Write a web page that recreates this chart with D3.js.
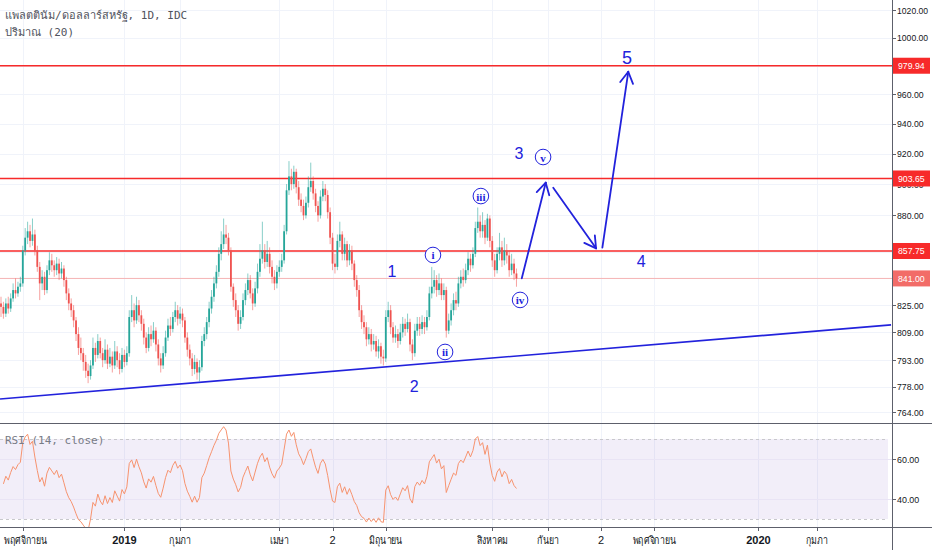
<!DOCTYPE html>
<html>
<head>
<meta charset="utf-8">
<script src="https://cdn.jsdelivr.net/npm/d3@7"></script>
<style>
  body { margin: 0; background: #fff; }
  svg { display: block; }
</style>
</head>
<body>
<div id="chart"></div>
<script>
// daily closes / highs / lows (open = previous close)
const firstOpen = 826;
const closes = [
  824,820,826,823,829,834,832,836,838,858, 866,870,864,868,858,848,838,842,834,846,
  852,849,846,850,844,847,840,832,826,822, 816,808,800,797,792,787,784,790,800,796,
  804,797,793,799,791,795,790,798,793,788, 796,792,797,818,822,816,825,819,814,806,
  800,808,805,810,802,794,790,797,806,813, 811,818,822,817,820,816,806,799,794,788,
  792,786,789,804,808,815,823,830,838,845, 856,862,868,866,858,836,828,822,814,818,
  828,834,840,832,826,835,845,853,858,851, 856,848,842,838,845,848,852,870,896,905,
  900,908,898,890,886,880,888,898,902,894, 886,880,892,897,893,882,866,850,848,864,
  868,856,862,852,858,850,840,834,822,815, 812,805,808,802,804,798,801,795,794,818,
  822,812,806,808,804,809,814,811,815,802, 797,810,814,811,815,812,818,832,836,840,
  834,838,831,834,810,816,822,828,826,838, 842,840,846,853,849,856,872,876,870,874,
  866,878,864,852,846,856,860,852,858,855, 846,850,844,841
];
const highs = [
  830,827,829,830,832,838,841,839,842,861, 872,876,874,878,871,861,851,846,845,849,
  857,856,852,854,853,851,849,842,835,829, 825,818,812,806,800,796,791,793,806,803,
  808,806,800,805,802,800,798,804,801,797, 800,799,801,822,831,826,830,828,822,817,
  809,812,813,815,812,805,797,801,810,817, 818,821,827,825,824,823,818,809,802,797,
  796,794,793,807,812,818,827,834,842,849, 860,870,878,874,869,860,838,832,825,822,
  832,838,844,843,835,839,850,862,876,862, 864,860,852,846,849,852,856,874,900,915,
  910,912,910,902,894,890,892,905,914,905, 897,889,896,902,900,896,885,869,856,868,
  876,870,866,864,862,861,852,843,837,825, 819,815,812,811,808,807,805,803,799,822,
  827,825,815,813,811,814,818,817,820,817, 805,814,818,818,819,818,822,836,848,846,
  843,844,841,838,836,820,826,832,833,842, 846,847,850,857,856,860,876,885,880,882,
  877,881,880,867,856,860,869,864,866,862, 858,856,853,847
];
const lows = [
  818,817,818,820,821,827,829,830,833,836, 855,862,860,861,855,845,828,834,831,832,
  843,845,842,843,840,841,836,828,822,818, 812,804,796,793,787,783,780,782,788,792,
  794,794,789,791,788,789,786,788,789,785, 786,789,790,795,815,812,814,815,810,802,
  797,798,801,803,798,790,786,788,795,804, 807,809,815,813,814,812,803,795,790,784,
  785,782,781,787,801,805,812,820,827,835, 842,852,859,862,855,833,824,818,810,811,
  816,825,831,829,822,824,832,842,850,847, 848,844,838,834,835,842,845,850,868,893,
  896,897,894,886,882,877,878,885,895,890, 882,876,878,889,889,878,862,846,844,846,
  860,852,852,848,849,846,836,830,818,811, 808,801,802,798,799,795,794,791,790,792,
  815,808,803,803,800,802,806,807,809,798, 793,795,807,807,808,808,810,816,829,832,
  830,831,828,828,806,808,813,819,822,824, 835,836,838,843,845,847,854,869,866,866,
  862,864,860,848,842,844,852,848,849,850, 842,843,840,836
];

// horizontal levels and last price
const levels = [979.94, 903.65, 857.75];
const lastPrice = 841.00;

// price axis ticks (log scale) and RSI ticks
const priceTicks = [764, 778, 793, 809, 825, 841, 857, 880, 900, 920, 940, 960, 980, 1000, 1020];
const rsiTicks = [40, 60];

// time axis: bar index of each labelled day
const timeTickBars = [9, 51, 74, 115, 137, 159, 203, 226, 248, 270, 313, 337];
const timeTickLabels = ["พฤศจิกายน", "2019", "กุมภา", "เมษา", "2", "มิถุนายน",
                        "สิงหาคม", "กันยา", "2", "พฤศจิกายน", "2020", "กุมภา"];

// trend line (bar, price) end points
const trendBars = [-0.4, 367.8];
const trendPrices = [771.2, 813.4];

// projected path, three arrows
const arrowFromBars = [215.2, 228.2, 248.5];
const arrowFromPrices = [841.1, 897.7, 859.8];
const arrowToBars = [225.1, 245.9, 259.2];
const arrowToPrices = [900.9, 859.4, 975.7];

// wave labels
const waveLabels = ["1", "2", "3", "4", "5"];
const waveBars = [161.6, 170.7, 214.0, 264.5, 258.7];
const wavePrices = [845.0, 778.4, 920.0, 851.0, 985.4];
const subLabels = ["i", "ii", "iii", "iv", "v"];
const subBars = [178.5, 183.5, 198.3, 214.5, 224.0];
const subPrices = [855.3, 797.7, 892.3, 828.1, 917.7];

const width = 932, height = 550;
const axisX = 892, mainBottom = 423, rsiBottom = 527;
const up = "#26a69a", down = "#ef5350", blue = "#2222dc", lineRed = "#f72a2a";
const axisFont = "'Liberation Sans', Arial, sans-serif";

const x = d3.scaleLinear().domain([0, 213]).range([1, 1 + 213 * 2.42]);
const y = d3.scaleLog().domain([764, 1020]).range([412, 10]);
const yR = d3.scaleLinear().domain([30, 70]).range([519, 439]);

const bars = closes.map((c, i) => ({
  i, c, h: highs[i], l: lows[i], o: i ? closes[i - 1] : firstOpen
}));

// RSI 14 (Wilder), seeded with an even split of the early average move
const rsi = [];
{
  const moves = closes.slice(1, 15).map((c, k) => Math.abs(c - closes[k]));
  let g = d3.mean(moves) / 2, l = g;
  for (let i = 1; i < closes.length; i++) {
    const d = closes[i] - closes[i - 1];
    g = (g * 13 + Math.max(d, 0)) / 14;
    l = (l * 13 + Math.max(-d, 0)) / 14;
    rsi.push({ i, v: 100 - 100 / (1 + g / l) });
  }
}

const svg = d3.select("#chart").append("svg")
  .attr("width", width).attr("height", height)
  .style("font-family", axisFont);

const defs = svg.append("defs");
defs.append("clipPath").attr("id", "mainClip")
  .append("rect").attr("x", 0).attr("y", 0).attr("width", axisX).attr("height", mainBottom);
defs.append("clipPath").attr("id", "rsiClip")
  .append("rect").attr("x", 0).attr("y", mainBottom + 1).attr("width", axisX).attr("height", rsiBottom - mainBottom - 1);

// grid
const grid = svg.append("g").attr("stroke", "#f0f3fa").attr("stroke-width", 1);
grid.selectAll(".vg").data(timeTickBars).enter().append("line")
  .attr("x1", d => Math.round(x(d)) + 0.5).attr("x2", d => Math.round(x(d)) + 0.5)
  .attr("y1", 0).attr("y2", rsiBottom);
grid.selectAll(".hg").data(priceTicks).enter().append("line")
  .attr("x1", 0).attr("x2", axisX)
  .attr("y1", d => Math.round(y(d)) + 0.5).attr("y2", d => Math.round(y(d)) + 0.5);

// RSI band
const rsiG = svg.append("g");
rsiG.append("rect")
  .attr("x", 0).attr("width", axisX - 4)
  .attr("y", yR(70)).attr("height", yR(30) - yR(70))
  .attr("fill", "#7e57c2").attr("fill-opacity", 0.1);
rsiG.selectAll(".band").data([70, 30]).enter().append("line")
  .attr("x1", 0).attr("x2", axisX - 4)
  .attr("y1", d => yR(d) + 0.5).attr("y2", d => yR(d) + 0.5)
  .attr("stroke", "#c8c8cc").attr("stroke-dasharray", "3,3");
rsiG.selectAll(".rg").data(rsiTicks).enter().append("line")
  .attr("x1", 0).attr("x2", axisX)
  .attr("y1", d => yR(d) + 0.5).attr("y2", d => yR(d) + 0.5)
  .attr("stroke", "#e9e4f5");
rsiG.append("path")
  .datum(rsi)
  .attr("clip-path", "url(#rsiClip)")
  .attr("fill", "none").attr("stroke", "#f7936f").attr("stroke-width", 1)
  .attr("d", d3.line().x(d => x(d.i)).y(d => yR(d.v)));

// main pane
const main = svg.append("g").attr("clip-path", "url(#mainClip)");

main.append("line")
  .attr("x1", 0).attr("x2", axisX)
  .attr("y1", y(lastPrice)).attr("y2", y(lastPrice))
  .attr("stroke", "#f6b4b4").attr("stroke-width", 1);

main.selectAll(".level").data(levels).enter().append("line")
  .attr("x1", 0).attr("x2", axisX)
  .attr("y1", d => y(d)).attr("y2", d => y(d))
  .attr("stroke", lineRed).attr("stroke-width", 1.6);

main.selectAll(".wick").data(bars).enter().append("line")
  .attr("x1", d => x(d.i)).attr("x2", d => x(d.i))
  .attr("y1", d => y(d.h)).attr("y2", d => y(d.l))
  .attr("stroke", d => d.c >= d.o ? up : down)
  .attr("stroke-opacity", 0.55).attr("stroke-width", 1);

main.selectAll(".body").data(bars).enter().append("rect")
  .attr("x", d => x(d.i) - 0.9).attr("width", 1.8)
  .attr("y", d => y(Math.max(d.o, d.c)))
  .attr("height", d => Math.max(1, Math.abs(y(d.o) - y(d.c))))
  .attr("fill", d => d.c >= d.o ? up : down);

main.append("line")
  .attr("x1", x(trendBars[0])).attr("y1", y(trendPrices[0]))
  .attr("x2", x(trendBars[1])).attr("y2", y(trendPrices[1]))
  .attr("stroke", blue).attr("stroke-width", 1.6);

// projected arrows
arrowFromBars.forEach((b, k) => {
  const x1 = x(b), y1 = y(arrowFromPrices[k]);
  const x2 = x(arrowToBars[k]), y2 = y(arrowToPrices[k]);
  const a = Math.atan2(y1 - y2, x1 - x2), len = 13;
  const g = main.append("g").attr("stroke", blue).attr("stroke-width", 1.8)
    .attr("fill", "none").attr("stroke-linecap", "round");
  g.append("line").attr("x1", x1).attr("y1", y1).attr("x2", x2).attr("y2", y2);
  [-0.52, 0.52].forEach(s => {
    g.append("line").attr("x1", x2).attr("y1", y2)
      .attr("x2", x2 + len * Math.cos(a + s)).attr("y2", y2 + len * Math.sin(a + s));
  });
});

// wave labels
main.selectAll(".wave").data(waveLabels).enter().append("text")
  .attr("x", (d, k) => x(waveBars[k])).attr("y", (d, k) => y(wavePrices[k]))
  .attr("text-anchor", "middle").attr("dominant-baseline", "central")
  .attr("font-family", axisFont)
  .attr("font-size", (d, k) => k === 4 ? 18 : 16)
  .attr("fill", blue)
  .text(d => d);

const sub = main.selectAll(".sub").data(subLabels).enter().append("g")
  .attr("transform", (d, k) => `translate(${x(subBars[k])},${y(subPrices[k])})`);
sub.append("circle").attr("r", 7.8)
  .attr("fill", "#fff").attr("stroke", blue).attr("stroke-width", 1);
sub.append("text")
  .attr("text-anchor", "middle").attr("dominant-baseline", "central").attr("y", 0.5)
  .attr("font-family", "'Liberation Serif', 'DejaVu Serif', serif")
  .attr("font-size", 11).attr("font-weight", "bold")
  .attr("fill", blue)
  .text(d => d);

// pane borders and right axis
const frame = svg.append("g").attr("stroke", "#5d606b").attr("stroke-width", 1);
frame.append("line").attr("x1", axisX + 0.5).attr("x2", axisX + 0.5).attr("y1", 0).attr("y2", height);
frame.append("line").attr("x1", 0).attr("x2", width).attr("y1", mainBottom + 0.5).attr("y2", mainBottom + 0.5);
frame.append("line").attr("x1", 0).attr("x2", width).attr("y1", rsiBottom + 0.5).attr("y2", rsiBottom + 0.5);

const fmt = d3.format(".2f");
// axis numbers are drawn narrow, like the reference's condensed face
const narrow = sel => sel.attr("textLength", d => fmt(d.v !== undefined ? d.v : d).length * 4.45)
  .attr("lengthAdjust", "spacingAndGlyphs");

const pAxis = svg.append("g");
pAxis.selectAll(".pt").data(priceTicks).enter().append("line")
  .attr("x1", axisX).attr("x2", axisX + 4)
  .attr("y1", d => Math.round(y(d)) + 0.5).attr("y2", d => Math.round(y(d)) + 0.5)
  .attr("stroke", "#5d606b");
pAxis.selectAll(".pl").data(priceTicks).enter().append("text")
  .attr("x", axisX + 5).attr("y", d => y(d))
  .attr("dominant-baseline", "central")
  .attr("font-size", 9.5).attr("fill", "#131722")
  .text(d => fmt(d))
  .call(narrow);

const rAxis = svg.append("g");
rAxis.selectAll(".rt").data(rsiTicks).enter().append("line")
  .attr("x1", axisX).attr("x2", axisX + 4)
  .attr("y1", d => yR(d) + 0.5).attr("y2", d => yR(d) + 0.5)
  .attr("stroke", "#5d606b");
rAxis.selectAll(".rl").data(rsiTicks).enter().append("text")
  .attr("x", axisX + 5).attr("y", d => yR(d))
  .attr("dominant-baseline", "central")
  .attr("font-size", 9.5).attr("fill", "#131722")
  .text(d => fmt(d))
  .call(narrow);

// price boxes on the axis
const boxes = levels.map(v => ({ v, fill: lineRed })).concat([{ v: lastPrice, fill: "#f26c68" }]);
const box = svg.selectAll(".box").data(boxes).enter().append("g")
  .attr("transform", d => `translate(${axisX + 1},${y(d.v)})`);
box.append("rect").attr("x", 0).attr("y", -8).attr("width", 37).attr("height", 16)
  .attr("fill", d => d.fill);
box.append("text").attr("x", 5).attr("y", 0).attr("dominant-baseline", "central")
  .attr("font-size", 9.5).attr("fill", "#fff")
  .text(d => fmt(d.v))
  .call(narrow);

// time axis
const tAxis = svg.append("g");
tAxis.selectAll(".tt").data(timeTickBars).enter().append("line")
  .attr("x1", d => Math.round(x(d)) + 0.5).attr("x2", d => Math.round(x(d)) + 0.5)
  .attr("y1", rsiBottom).attr("y2", rsiBottom + 4)
  .attr("stroke", "#5d606b");
const tl = tAxis.selectAll(".tl").data(timeTickLabels).enter().append("text")
  .attr("x", (d, k) => x(timeTickBars[k])).attr("y", 540)
  .attr("text-anchor", "middle").attr("dominant-baseline", "central")
  .attr("font-size", 11).attr("fill", "#131722")
  .attr("font-weight", d => /^20\d\d$/.test(d) ? "bold" : "normal")
  .text(d => d);
tl.each(function(d, k) {
  if (/^\d+$/.test(d)) return;
  const w = this.getComputedTextLength() * 0.8;
  const cx = Math.max(x(timeTickBars[k]), 4 + w / 2);
  d3.select(this).attr("x", cx).attr("textLength", w).attr("lengthAdjust", "spacingAndGlyphs");
});

// legends
const mono = "'DejaVu Sans Mono', 'Liberation Mono', monospace";
svg.append("text").attr("x", 5).attr("y", 19)
  .attr("font-family", mono).attr("font-size", 11).attr("fill", "#50535e")
  .text("แพลตตินัม/ดอลลาร์สหรัฐ, 1D, IDC");
svg.append("text").attr("x", 5).attr("y", 36)
  .attr("font-family", mono).attr("font-size", 11).attr("fill", "#50535e")
  .text("ปริมาณ (20)");
svg.append("text").attr("x", 5).attr("y", 444)
  .attr("font-family", mono).attr("font-size", 11).attr("fill", "#787b86")
  .text("RSI (14, close)");
</script>
</body>
</html>
